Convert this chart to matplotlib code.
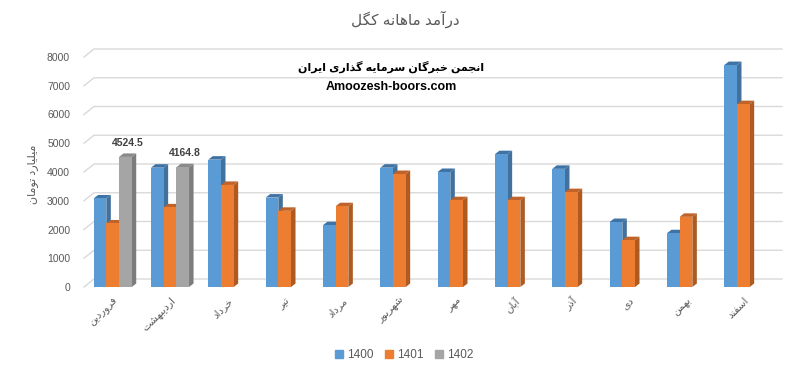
import numpy as np
import matplotlib
matplotlib.use('Agg')
import matplotlib.pyplot as plt
from matplotlib.patches import Polygon, Patch

months = ['فروردین', 'اردیبهشت', 'خرداد', 'تیر', 'مرداد', 'شهریور',
          'مهر', 'آبان', 'آذر', 'دی', 'بهمن', 'اسفند']
years = ['1400', '1401', '1402']
rev_1400 = [3080, 4150, 4430, 3110, 2150, 4150, 4000, 4620, 4110, 2260, 1870, 7720]
rev_1401 = [2210, 2770, 3550, 2650, 2810, 3930, 3020, 3020, 3300, 1630, 2440, 6360]
rev_1402 = [4524.5, 4164.8]
yticks = list(range(0, 8001, 1000))

# arabic presentation forms: (isolated, final, initial, medial)
FORMS = {
    'ا': (0xFE8D, 0xFE8E), 'آ': (0xFE81, 0xFE82),
    'ب': (0xFE8F, 0xFE90, 0xFE91, 0xFE92), 'پ': (0xFB56, 0xFB57, 0xFB58, 0xFB59),
    'ت': (0xFE95, 0xFE96, 0xFE97, 0xFE98), 'ج': (0xFE9D, 0xFE9E, 0xFE9F, 0xFEA0),
    'خ': (0xFEA5, 0xFEA6, 0xFEA7, 0xFEA8), 'د': (0xFEA9, 0xFEAA),
    'ذ': (0xFEAB, 0xFEAC), 'ر': (0xFEAD, 0xFEAE), 'ز': (0xFEAF, 0xFEB0),
    'س': (0xFEB1, 0xFEB2, 0xFEB3, 0xFEB4), 'ش': (0xFEB5, 0xFEB6, 0xFEB7, 0xFEB8),
    'ف': (0xFED1, 0xFED2, 0xFED3, 0xFED4), 'ک': (0xFB8E, 0xFB8F, 0xFB90, 0xFB91),
    'ك': (0xFED9, 0xFEDA, 0xFEDB, 0xFEDC), 'گ': (0xFB92, 0xFB93, 0xFB94, 0xFB95),
    'ل': (0xFEDD, 0xFEDE, 0xFEDF, 0xFEE0), 'م': (0xFEE1, 0xFEE2, 0xFEE3, 0xFEE4),
    'ن': (0xFEE5, 0xFEE6, 0xFEE7, 0xFEE8), 'ه': (0xFEE9, 0xFEEA, 0xFEEB, 0xFEEC),
    'و': (0xFEED, 0xFEEE), 'ی': (0xFBFC, 0xFBFD, 0xFBFE, 0xFBFF),
    'ي': (0xFEF1, 0xFEF2, 0xFEF3, 0xFEF4),
}


def shape(text):
    out = []
    for i, ch in enumerate(text):
        if ch not in FORMS:
            out.append(ch)
            continue
        f = FORMS[ch]
        prev = text[i - 1] if i > 0 else ''
        nxt = text[i + 1] if i + 1 < len(text) else ''
        join_prev = prev in FORMS and len(FORMS[prev]) == 4
        join_next = len(f) == 4 and nxt in FORMS
        if join_prev and join_next:
            c = f[3]
        elif join_prev:
            c = f[1]
        elif join_next:
            c = f[2]
        else:
            c = f[0]
        out.append(chr(c))
    return ''.join(reversed(out))


plt.rcParams['font.family'] = ['Liberation Sans', 'DejaVu Sans']
grey_txt = '#595959'

W, H = 812, 374
fig = plt.figure(figsize=(W / 100, H / 100), dpi=100)
ax_l, ax_r, ax_b, ax_t = 84, 772, 287, 57
ax = fig.add_axes([ax_l / W, 1 - ax_b / H, (ax_r - ax_l) / W, (ax_b - ax_t) / H])
ax.set_xlim(-0.5, 11.5)
ax.set_ylim(0, 8000)

px_x = (ax_r - ax_l) / 12
px_y = (ax_b - ax_t) / 8000
dx, dy = 4.5 / px_x, 3.5 / px_y      # bar depth
gx, gy = 10 / px_x, 8 / px_y         # back wall offset

# gridlines on the back wall
for v in yticks:
    ax.plot([-0.5, -0.5 + gx, 11.5 + gx], [v, v + gy, v + gy], color='#D9D9D9',
            lw=1, clip_on=False, zorder=0)

front = ['#5B9BD5', '#ED7D31', '#A5A5A5']
side = ['#41719C', '#AE5A21', '#7C7C7C']
top = ['#3F72A5', '#C0632A', '#8A8A8A']
w = 0.2215


def bar3d(xs, hs, k):
    for x, h in zip(xs, hs):
        l, r = x - w / 2, x + w / 2
        ax.add_patch(Polygon([(l, 0), (r, 0), (r, h), (l, h)], color=front[k], zorder=3, lw=0))
        ax.add_patch(Polygon([(r, 0), (r, h), (r + dx, h + dy), (r + dx, dy)],
                             color=side[k], zorder=2, lw=0))
        ax.add_patch(Polygon([(l, h), (r, h), (r + dx, h + dy), (l + dx, h + dy)],
                             color=top[k], zorder=2, lw=0))


x = np.arange(len(months))
bar3d(x - w, rev_1400, 0)
bar3d(x, rev_1401, 1)
x2 = np.arange(len(rev_1402)) + w
bar3d(x2, rev_1402, 2)
for xi, v in zip(x2, rev_1402):
    ax.annotate(f'{v}', (xi + dx / 2, v + dy), xytext=(0, 4), textcoords='offset points',
                ha='center', va='bottom', fontsize=7.5, fontweight='bold', color='#404040')

for s in ax.spines.values():
    s.set_visible(False)
ax.set_yticks(yticks)
ax.set_yticklabels([str(v) for v in yticks])
ax.tick_params(axis='y', length=0, pad=10, labelsize=7.5, labelcolor=grey_txt)
ax.set_xticks(x)
ax.set_xticklabels([shape(m) for m in months], rotation=45, ha='right', va='top',
                   rotation_mode='anchor', fontsize=7.5, color=grey_txt)
ax.tick_params(axis='x', length=0, pad=6)

fig.text(33 / W, 1 - 174 / H, shape('میلیارد تومان'), rotation=90, ha='center', va='center',
         fontsize=8, color=grey_txt)
fig.text(405 / W, 1 - 19 / H, shape('درآمد ماهانه کگل'), ha='center', va='center',
         fontsize=11, color=grey_txt)
fig.text(391 / W, 1 - 67 / H, shape('انجمن خبرگان سرمایه گذاری ایران'), ha='center',
         va='center', fontsize=8, fontweight='bold', color='black')
fig.text(391 / W, 1 - 87 / H, 'Amoozesh-boors.com', ha='center', va='center',
         fontsize=9, fontweight='bold', color='black')

fig.legend(handles=[Patch(color=c) for c in front], labels=years, loc='center',
           bbox_to_anchor=(404 / W, 1 - 355 / H), ncol=3, frameon=False, fontsize=8.5,
           handlelength=0.7, handleheight=0.7, handletextpad=0.3, columnspacing=1.0,
           labelcolor=grey_txt)

fig.savefig('out.png', dpi=100)
